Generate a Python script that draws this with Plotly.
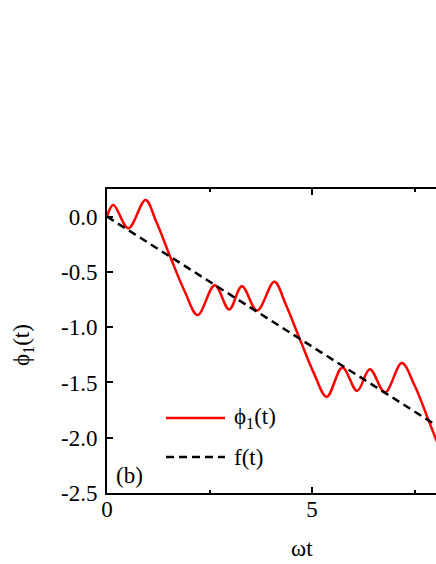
import plotly.graph_objects as go

# red curve phi_1(t)
t_phi = [0.0, 0.154, 0.52, 0.94, 1.2, 1.55, 1.9, 2.21, 2.63, 2.98, 3.29, 3.66,
         4.08, 4.35, 4.71, 5.05, 5.36, 5.74, 6.10, 6.41, 6.78, 7.19, 7.5, 7.84, 8.05]
phi = [0.0, 0.106, -0.105, 0.15, -0.045, -0.37, -0.68, -0.89, -0.62, -0.84, -0.63, -0.85,
       -0.59, -0.785, -1.115, -1.42, -1.63, -1.365, -1.576, -1.38, -1.59, -1.325, -1.525, -1.84, -2.04]

# dashed straight line f(t)
t_f = [0.0, 8.05]
f = [0.0, -1.892]

x_ticks = [0, 5, 10]
y_ticks = [0.0, -0.5, -1.0, -1.5, -2.0, -2.5]
y_labels = ["0.0", "-0.5", "-1.0", "-1.5", "-2.0", "-2.5"]

FONT = "Liberation Serif"
RED = "#ff0000"
DASH = "8px,5px"

fig = go.Figure()
fig.add_trace(go.Scatter(x=t_phi, y=phi, mode="lines", name="ϕ<sub>1</sub>(t)",
                         line=dict(color=RED, width=2.5, shape="spline", smoothing=1.0)))
fig.add_trace(go.Scatter(x=t_f, y=f, mode="lines", name="f(t)",
                         line=dict(color="black", width=2.5, dash=DASH)))

axis_common = dict(showline=True, linecolor="black", linewidth=2, ticks="inside",
                   tickcolor="black", tickwidth=1.5, ticklen=6, showgrid=False,
                   zeroline=False, tickfont=dict(family=FONT, size=23, color="black"))

fig.update_xaxes(range=[0, 8.024], tickvals=x_ticks, mirror="allticks",
                 minor=dict(dtick=2.5, tick0=0, ticks="inside", ticklen=3,
                            tickwidth=1.5, tickcolor="black", showgrid=False),
                 ticklabelstandoff=-6, **axis_common)
fig.update_yaxes(range=[-2.5, 0.25], tickvals=y_ticks, ticktext=y_labels,
                 ticklabelstandoff=3, **axis_common)

# hand-made legend to match the longer sample lines of the original
fig.add_shape(type="line", xref="paper", yref="paper", x0=(166 - 107) / 329, x1=(225 - 107) / 329,
              y0=(493 - 418) / 304, y1=(493 - 418) / 304, line=dict(color=RED, width=2.5))
fig.add_shape(type="line", xref="paper", yref="paper", x0=(166 - 107) / 329, x1=(225 - 107) / 329,
              y0=(493 - 457) / 304, y1=(493 - 457) / 304, line=dict(color="black", width=2.5, dash=DASH))

labels = [("ϕ<sub>1</sub>(t)", (232 - 107) / 329, (493 - 418) / 304),
          ("f(t)", (232 - 107) / 329, (493 - 457) / 304),
          ("(b)", (114 - 107) / 329, (493 - 475) / 304)]
for text, xp, yp in labels:
    fig.add_annotation(text=text, x=xp, y=yp, xref="paper", yref="paper", showarrow=False,
                       xanchor="left", yanchor="middle", font=dict(family=FONT, size=23, color="black"))

fig.add_annotation(text="ωt", x=4.76, y=(493 - 548) / 304, xref="x", yref="paper",
                   showarrow=False, xanchor="center", yanchor="middle",
                   font=dict(family=FONT, size=23, color="black"))
fig.add_annotation(text="ϕ<sub>1</sub>(t)", x=-84 / 329, y=(493 - 345) / 304, xref="paper",
                   yref="paper", showarrow=False, textangle=-90, xanchor="center",
                   yanchor="middle", font=dict(family=FONT, size=23, color="black"))

fig.update_layout(width=436, height=564, margin=dict(l=107, r=0, t=189, b=71),
                  paper_bgcolor="white", plot_bgcolor="white", showlegend=False,
                  font=dict(family=FONT, size=23, color="black"))

# drop the browser's default page margin so the figure sits at the window corner
fig.write_html("out.html", config={"displayModeBar": False},
               post_script="document.body.style.margin='0';document.body.style.overflow='hidden';")
